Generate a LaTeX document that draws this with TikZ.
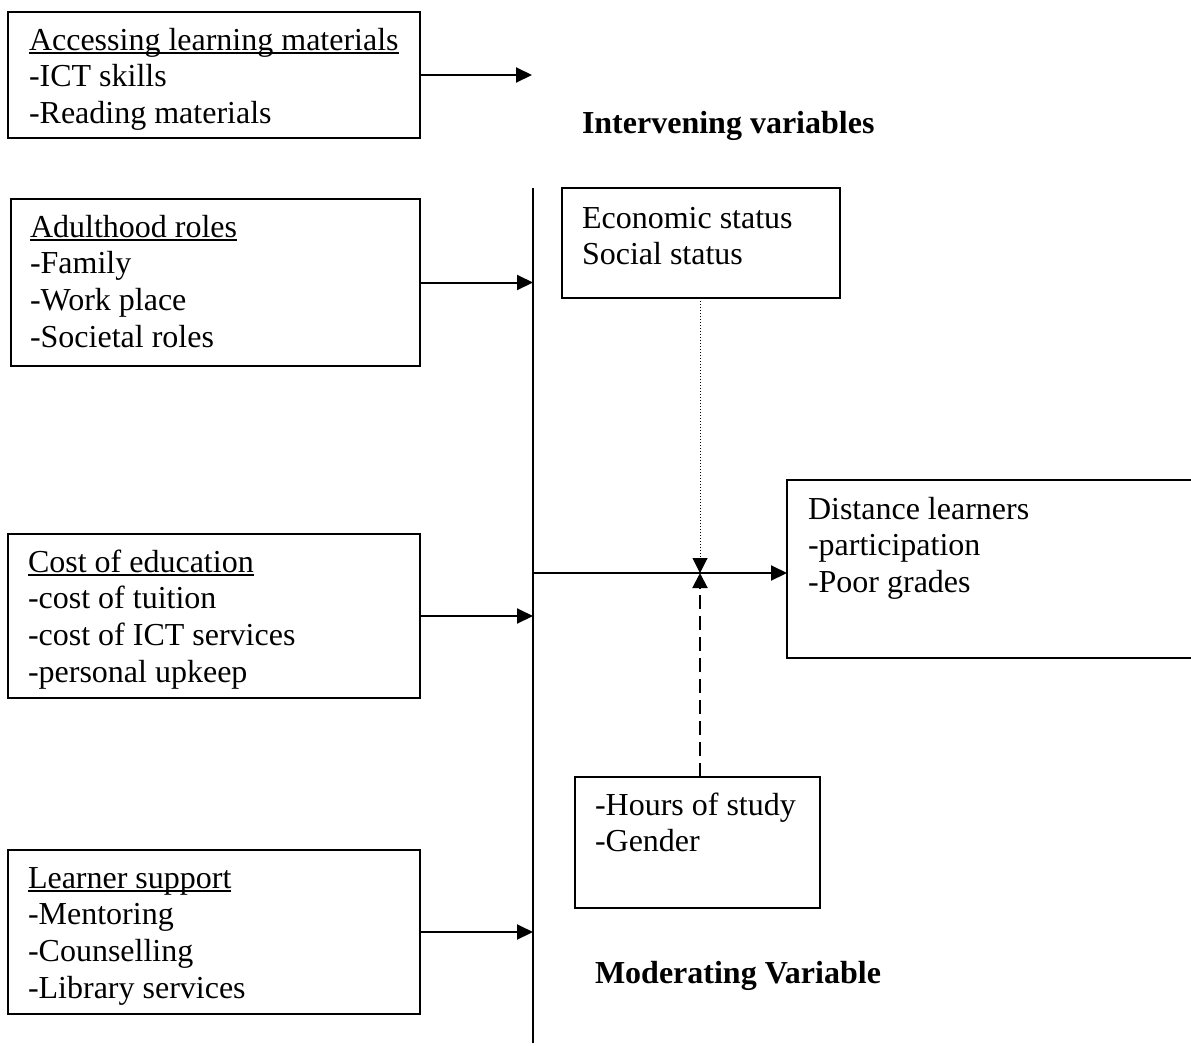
\documentclass[tikz,border=0pt]{standalone}
\usepackage{fontspec}
\setmainfont{Liberation Serif}
\usetikzlibrary{arrows.meta}
\newcommand{\ulx}[1]{{\setbox0\hbox{#1}\rlap{\rule[-4pt]{\wd0}{2pt}}\box0}}
\tikzset{
  box/.style={draw, line width=2pt, inner sep=0pt, outer sep=0pt, anchor=north west},
  txt/.style={anchor=base west, inner sep=0pt, outer sep=0pt, font=\fontsize{32}{36.8}\selectfont},
  ttl/.style={anchor=base west, inner sep=0pt, outer sep=0pt, font=\fontsize{32}{36.8}\selectfont\bfseries},
  arr/.style={line width=2pt, -{Triangle[length=16pt,width=15pt]}},
  plain/.style={line width=2pt}
}
\newcommand{\lines}[1]{\begin{tabular}[t]{@{}l@{}}#1\end{tabular}}
\begin{document}
\begin{tikzpicture}[x=1pt,y=-1pt]
\useasboundingbox (0,0) rectangle (1191,1045);
% left boxes
\node[box, minimum width=412pt, minimum height=126pt] (b1) at (8,12) {};
\node[txt] (t1) at (29,50) {\lines{\ulx{Accessing learning materials}\\-ICT skills\\-Reading materials}};
\node[box, minimum width=409pt, minimum height=167pt] (b2) at (11,199) {};
\node[txt] (t2) at (30,237) {\lines{\ulx{Adulthood roles}\\-Family\\-Work place\\-Societal roles}};
\node[box, minimum width=412pt, minimum height=164pt] (b3) at (8,534) {};
\node[txt] (t3) at (28,572) {\lines{\ulx{Cost of education}\\-cost of tuition\\-cost of ICT services\\-personal upkeep}};
\node[box, minimum width=412pt, minimum height=164pt] (b4) at (8,850) {};
\node[txt] (t4) at (28,888) {\lines{\ulx{Learner support}\\-Mentoring\\-Counselling\\-Library services}};
% right boxes
\node[box, minimum width=278pt, minimum height=110pt] (b5) at (562,188) {};
\node[txt] (t5) at (582,228) {\lines{Economic status\\Social status}};
\node[box, minimum width=420pt, minimum height=178pt] (b6) at (787,480) {};
\node[txt] (t6) at (808,519) {\lines{Distance learners\\-participation\\-Poor grades}};
\node[box, minimum width=245pt, minimum height=131pt] (b7) at (575,777) {};
\node[txt] (t7) at (595,815) {\lines{-Hours of study\\-Gender}};
% titles
\node[ttl] (iv) at (582,133) {Intervening variables};
\node[ttl] (mv) at (595,983) {Moderating Variable};
% connectors
\coordinate (vt) at (533,188);
\coordinate (vb) at (533,1043);
\coordinate (e1) at (532,75);
\coordinate (mid) at (700,573);
\draw[plain] (vt) -- (vb);
\draw[arr] (b1.east) -- (e1);
\draw[arr] (b2.east) -- (b2.east -| vt);
\draw[arr] (b3.east) -- (b3.east -| vt);
\draw[arr] (b4.east) -- (b4.east -| vt);
\draw[arr] (mid -| vt) -- (b6.west |- mid);
\draw[line width=1pt, dash pattern=on 1pt off 2pt, -{Triangle[length=15pt,width=15pt]}] (b5.south -| mid) -- (mid);
\draw[line width=2pt, dash pattern=on 14pt off 7pt, -{Triangle[length=15pt,width=15pt]}] (b7.north -| mid) -- (mid);
\end{tikzpicture}
\end{document}
